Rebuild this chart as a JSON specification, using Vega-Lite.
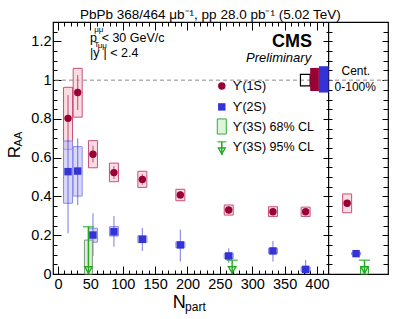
{
  "$schema": "https://vega.github.io/schema/vega-lite/v6.json",
  "autosize": {"type": "none"},
  "padding": {"left": 53, "top": 22, "right": 11, "bottom": 45},
  "width": 335,
  "height": 252,
  "background": "white",
  "title": {"text": "PbPb 368/464 μb⁻¹, pp 28.0 pb⁻¹ (5.02 TeV)", "anchor": "start", "frame": "group", "dx": 27, "offset": -11, "baseline": "alphabetic", "fontSize": 13.5, "font": "Liberation Sans", "fontWeight": "normal", "color": "black"},
  "config": {
    "view": {"stroke": "black", "strokeWidth": 1.2},
    "font": "Liberation Sans",
    "axis": {"grid": false, "domain": false, "labelFont": "Liberation Sans", "labelColor": "black", "tickColor": "black", "tickWidth": 1, "labelFlush": false, "labelOverlap": false}
  },
  "resolve": {"axis": {"x": "independent", "y": "independent"}},
  "datasets": {
    "main": [
      {"s": "1S", "n": 15.5, "r": 0.803, "slo": 0.683, "shi": 0.923, "blo": 0.643, "bhi": 0.963},
      {"s": "1S", "n": 30.4, "r": 0.936, "slo": 0.846, "shi": 1.027, "blo": 0.809, "bhi": 1.061},
      {"s": "1S", "n": 54, "r": 0.618, "slo": 0.575, "shi": 0.661, "blo": 0.548, "bhi": 0.688},
      {"s": "1S", "n": 86.4, "r": 0.523, "slo": 0.49, "shi": 0.556, "blo": 0.476, "bhi": 0.572},
      {"s": "1S", "n": 130.3, "r": 0.488, "slo": 0.46, "shi": 0.516, "blo": 0.447, "bhi": 0.53},
      {"s": "1S", "n": 189, "r": 0.408, "slo": 0.388, "shi": 0.428, "blo": 0.378, "bhi": 0.437},
      {"s": "1S", "n": 263.7, "r": 0.33, "slo": 0.313, "shi": 0.347, "blo": 0.304, "bhi": 0.356},
      {"s": "1S", "n": 332, "r": 0.321, "slo": 0.305, "shi": 0.337, "blo": 0.297, "bhi": 0.347},
      {"s": "1S", "n": 382.5, "r": 0.321, "slo": 0.305, "shi": 0.337, "blo": 0.297, "bhi": 0.345},
      {"s": "2S", "n": 15.5, "r": 0.528, "slo": 0.21, "shi": 0.69, "blo": 0.365, "bhi": 0.686},
      {"s": "2S", "n": 30.4, "r": 0.531, "slo": 0.356, "shi": 0.7, "blo": 0.402, "bhi": 0.657},
      {"s": "2S", "n": 54, "r": 0.201, "slo": 0.093, "shi": 0.313, "blo": 0.164, "bhi": 0.236},
      {"s": "2S", "n": 86.4, "r": 0.218, "slo": 0.141, "shi": 0.299, "blo": 0.196, "bhi": 0.244},
      {"s": "2S", "n": 130.3, "r": 0.179, "slo": 0.119, "shi": 0.239, "blo": 0.162, "bhi": 0.197},
      {"s": "2S", "n": 189, "r": 0.15, "slo": 0.064, "shi": 0.23, "blo": 0.136, "bhi": 0.165},
      {"s": "2S", "n": 263.7, "r": 0.093, "slo": 0.058, "shi": 0.133, "blo": 0.08, "bhi": 0.107},
      {"s": "2S", "n": 332, "r": 0.119, "slo": 0.064, "shi": 0.17, "blo": 0.106, "bhi": 0.132},
      {"s": "2S", "n": 382.5, "r": 0.024, "slo": 0, "shi": 0.072, "blo": 0.012, "bhi": 0.036}
    ],
    "integ": [
      {"s": "1S", "n": 446.6, "r": 0.365, "slo": 0.35, "shi": 0.38, "blo": 0.316, "bhi": 0.413},
      {"s": "2S", "n": 460.4, "r": 0.105, "slo": 0.095, "shi": 0.115, "blo": 0.099, "bhi": 0.111}
    ],
    "ul95": [
      {"n": 47, "ul": 0.244},
      {"n": 269, "ul": 0.071},
      {"n": 473.4, "ul": 0.071}
    ],
    "glob": [
      {"s": "1S", "x1": 389.5, "x2": 403, "lo": 0.944, "hi": 1.063},
      {"s": "2S", "x1": 403, "x2": 418, "lo": 0.936, "hi": 1.072}
    ]
  },
  "layer": [
    {
      "data": {"values": [{}]},
      "mark": {"type": "rule", "color": "#8c8c8c", "strokeDash": [4, 3], "strokeWidth": 1},
      "encoding": {"y": {"datum": 1, "type": "quantitative", "scale": {"domain": [0, 1.3], "nice": false, "zero": false}, "axis": null}}
    },
    {
      "data": {"values": [{}]},
      "mark": {"type": "rule", "color": "black", "strokeWidth": 1.2},
      "encoding": {"x": {"datum": 418, "type": "quantitative", "scale": {"domain": [0, 502], "nice": false, "zero": false}, "axis": null}}
    },
    {
      "data": {"name": "main"},
      "mark": {"type": "bar", "size": 9, "fillOpacity": 0.6, "strokeWidth": 1},
      "encoding": {
        "x": {"field": "n", "type": "quantitative", "scale": {"domain": [0, 502], "nice": false, "zero": false},
              "axis": {"title": null, "orient": "bottom", "values": [0, 50, 100, 150, 200, 250, 300, 350, 400], "tickSize": -8, "labelPadding": 11, "labelFontSize": 14.5, "format": "d"}},
        "y": {"field": "blo", "type": "quantitative", "scale": {"domain": [0, 1.3], "nice": false, "zero": false},
              "axis": {"title": null, "orient": "left", "values": [0, 0.2, 0.4, 0.6, 0.8, 1, 1.2], "tickSize": -8, "labelPadding": 10, "labelFontSize": 14.5, "format": "~g"}},
        "y2": {"field": "bhi"},
        "fill": {"field": "s", "type": "nominal", "scale": {"domain": ["1S", "2S"], "range": ["#f5c6d1", "#bfbff2"]}, "legend": null},
        "stroke": {"field": "s", "type": "nominal", "scale": {"domain": ["1S", "2S"], "range": ["#c8507a", "#8a8aee"]}, "legend": null}
      }
    },
    {
      "data": {"name": "main"},
      "mark": {"type": "rule", "strokeWidth": 1.2, "opacity": 0.55},
      "encoding": {
        "x": {"field": "n", "type": "quantitative", "scale": {"domain": [0, 502], "nice": false, "zero": false},
              "axis": {"title": null, "orient": "bottom", "values": [10, 20, 30, 40, 60, 70, 80, 90, 110, 120, 130, 140, 160, 170, 180, 190, 210, 220, 230, 240, 260, 270, 280, 290, 310, 320, 330, 340, 360, 370, 380, 390, 410], "tickSize": -4, "labels": false}},
        "y": {"field": "slo", "type": "quantitative", "scale": {"domain": [0, 1.3], "nice": false, "zero": false},
              "axis": {"title": null, "orient": "left", "values": [0.05, 0.1, 0.15, 0.25, 0.3, 0.35, 0.45, 0.5, 0.55, 0.65, 0.7, 0.75, 0.85, 0.9, 0.95, 1.05, 1.1, 1.15, 1.25], "tickSize": -4, "labels": false}},
        "y2": {"field": "shi"},
        "color": {"field": "s", "type": "nominal", "scale": {"domain": ["1S", "2S"], "range": ["#990033", "#3333d6"]}, "legend": null}
      }
    },
    {
      "data": {"name": "integ"},
      "mark": {"type": "bar", "size": 9, "fillOpacity": 0.6, "strokeWidth": 1},
      "encoding": {
        "x": {"field": "n", "type": "quantitative", "scale": {"domain": [0, 502], "nice": false, "zero": false},
              "axis": {"title": null, "orient": "top", "values": [0, 50, 100, 150, 200, 250, 300, 350, 400], "tickSize": -8, "labels": false}},
        "y": {"field": "blo", "type": "quantitative", "scale": {"domain": [0, 1.3], "nice": false, "zero": false},
              "axis": {"title": null, "orient": "right", "offset": -56, "values": [0, 0.2, 0.4, 0.6, 0.8, 1, 1.2], "tickSize": -9, "labels": false}},
        "y2": {"field": "bhi"},
        "fill": {"field": "s", "type": "nominal", "scale": {"domain": ["1S", "2S"], "range": ["#f5c6d1", "#bfbff2"]}, "legend": null},
        "stroke": {"field": "s", "type": "nominal", "scale": {"domain": ["1S", "2S"], "range": ["#c8507a", "#8a8aee"]}, "legend": null}
      }
    },
    {
      "data": {"name": "integ"},
      "mark": {"type": "rule", "strokeWidth": 1.2, "opacity": 0.55},
      "encoding": {
        "x": {"field": "n", "type": "quantitative", "scale": {"domain": [0, 502], "nice": false, "zero": false},
              "axis": {"title": null, "orient": "top", "values": [10, 20, 30, 40, 60, 70, 80, 90, 110, 120, 130, 140, 160, 170, 180, 190, 210, 220, 230, 240, 260, 270, 280, 290, 310, 320, 330, 340, 360, 370, 380, 390, 410], "tickSize": -4, "labels": false}},
        "y": {"field": "slo", "type": "quantitative", "scale": {"domain": [0, 1.3], "nice": false, "zero": false},
              "axis": {"title": null, "orient": "right", "offset": -56, "values": [0.05, 0.1, 0.15, 0.25, 0.3, 0.35, 0.45, 0.5, 0.55, 0.65, 0.7, 0.75, 0.85, 0.9, 0.95, 1.05, 1.1, 1.15, 1.25], "tickSize": -6, "labels": false}},
        "y2": {"field": "shi"},
        "color": {"field": "s", "type": "nominal", "scale": {"domain": ["1S", "2S"], "range": ["#990033", "#3333d6"]}, "legend": null}
      }
    },
    {
      "data": {"values": [{"n": 47, "lo": 0, "hi": 0.175}]},
      "mark": {"type": "bar", "size": 8, "fill": "#e2eadc", "stroke": "#7d9a7d", "strokeWidth": 1},
      "encoding": {
        "x": {"field": "n", "type": "quantitative", "scale": {"domain": [0, 502], "nice": false, "zero": false}, "axis": null},
        "y": {"field": "lo", "type": "quantitative", "scale": {"domain": [0, 1.3], "nice": false, "zero": false},
              "axis": {"title": null, "orient": "right", "values": [0, 0.2, 0.4, 0.6, 0.8, 1, 1.2], "tickSize": -6, "labels": false}},
        "y2": {"field": "hi"}
      }
    },
    {
      "data": {"values": [{"n": 473.4, "lo": 0, "hi": 0.038}]},
      "mark": {"type": "bar", "size": 8, "fill": "#ddf5dd", "stroke": "#33aa33", "strokeWidth": 1},
      "encoding": {
        "x": {"field": "n", "type": "quantitative", "scale": {"domain": [0, 502], "nice": false, "zero": false}, "axis": null},
        "y": {"field": "lo", "type": "quantitative", "scale": {"domain": [0, 1.3], "nice": false, "zero": false}, "axis": null},
        "y2": {"field": "hi"}
      }
    },
    {
      "data": {"name": "ul95"},
      "mark": {"type": "rule", "color": "#22aa22", "strokeWidth": 1.5},
      "encoding": {
        "x": {"field": "n", "type": "quantitative", "scale": {"domain": [0, 502], "nice": false, "zero": false}, "axis": null},
        "y": {"field": "ul", "type": "quantitative", "scale": {"domain": [0, 1.3], "nice": false, "zero": false},
              "axis": {"title": null, "orient": "right", "values": [0.05, 0.1, 0.15, 0.25, 0.3, 0.35, 0.45, 0.5, 0.55, 0.65, 0.7, 0.75, 0.85, 0.9, 0.95, 1.05, 1.1, 1.15, 1.25], "tickSize": -5, "labels": false}},
        "y2": {"datum": 0}
      }
    },
    {
      "data": {"name": "ul95"},
      "mark": {"type": "tick", "orient": "horizontal", "size": 11, "thickness": 1.5, "color": "#22aa22"},
      "encoding": {
        "x": {"field": "n", "type": "quantitative", "scale": {"domain": [0, 502], "nice": false, "zero": false}, "axis": null},
        "y": {"field": "ul", "type": "quantitative", "scale": {"domain": [0, 1.3], "nice": false, "zero": false}, "axis": null}
      }
    },
    {
      "data": {"name": "ul95"},
      "mark": {"type": "point", "shape": "triangle-down", "size": 55, "filled": false, "color": "#22aa22", "strokeWidth": 1.4, "yOffset": -4, "opacity": 1},
      "encoding": {
        "x": {"field": "n", "type": "quantitative", "scale": {"domain": [0, 502], "nice": false, "zero": false}, "axis": null},
        "y": {"datum": 0, "type": "quantitative", "scale": {"domain": [0, 1.3], "nice": false, "zero": false}, "axis": null}
      }
    },
    {
      "data": {"name": "main"},
      "mark": {"type": "point", "filled": true, "opacity": 1, "size": 55},
      "encoding": {
        "x": {"field": "n", "type": "quantitative", "scale": {"domain": [0, 502], "nice": false, "zero": false}, "axis": null},
        "y": {"field": "r", "type": "quantitative", "scale": {"domain": [0, 1.3], "nice": false, "zero": false}, "axis": null},
        "color": {"field": "s", "type": "nominal", "scale": {"domain": ["1S", "2S"], "range": ["#990033", "#3333d6"]}, "legend": null},
        "shape": {"field": "s", "type": "nominal", "scale": {"domain": ["1S", "2S"], "range": ["circle", "square"]}, "legend": null}
      }
    },
    {
      "data": {"name": "integ"},
      "mark": {"type": "point", "filled": true, "opacity": 1, "size": 55},
      "encoding": {
        "x": {"field": "n", "type": "quantitative", "scale": {"domain": [0, 502], "nice": false, "zero": false}, "axis": null},
        "y": {"field": "r", "type": "quantitative", "scale": {"domain": [0, 1.3], "nice": false, "zero": false}, "axis": null},
        "color": {"field": "s", "type": "nominal", "scale": {"domain": ["1S", "2S"], "range": ["#990033", "#3333d6"]}, "legend": null},
        "shape": {"field": "s", "type": "nominal", "scale": {"domain": ["1S", "2S"], "range": ["circle", "square"]}, "legend": null}
      }
    },
    {
      "data": {"values": [{"x1": 374.5, "x2": 389.5, "lo": 0.97, "hi": 1.03}]},
      "mark": {"type": "rect", "fill": "transparent", "stroke": "black", "strokeWidth": 1.2},
      "encoding": {
        "x": {"field": "x1", "type": "quantitative", "scale": {"domain": [0, 502], "nice": false, "zero": false}, "axis": null},
        "x2": {"field": "x2"},
        "y": {"field": "lo", "type": "quantitative", "scale": {"domain": [0, 1.3], "nice": false, "zero": false}, "axis": null},
        "y2": {"field": "hi"}
      }
    },
    {
      "data": {"name": "glob"},
      "mark": {"type": "rect", "opacity": 1},
      "encoding": {
        "x": {"field": "x1", "type": "quantitative", "scale": {"domain": [0, 502], "nice": false, "zero": false}, "axis": null},
        "x2": {"field": "x2"},
        "y": {"field": "lo", "type": "quantitative", "scale": {"domain": [0, 1.3], "nice": false, "zero": false}, "axis": null},
        "y2": {"field": "hi"},
        "color": {"field": "s", "type": "nominal", "scale": {"domain": ["1S", "2S"], "range": ["#990033", "#3333d6"]}, "legend": null}
      }
    },
    {
      "data": {"values": [{"s": "1S", "x": 253, "y": 0.97}, {"s": "2S", "x": 253, "y": 0.862}]},
      "mark": {"type": "point", "filled": true, "opacity": 1, "size": 55},
      "encoding": {
        "x": {"field": "x", "type": "quantitative", "scale": {"domain": [0, 502], "nice": false, "zero": false}, "axis": null},
        "y": {"field": "y", "type": "quantitative", "scale": {"domain": [0, 1.3], "nice": false, "zero": false}, "axis": null},
        "color": {"field": "s", "type": "nominal", "scale": {"domain": ["1S", "2S"], "range": ["#990033", "#3333d6"]}, "legend": null},
        "shape": {"field": "s", "type": "nominal", "scale": {"domain": ["1S", "2S"], "range": ["circle", "square"]}, "legend": null}
      }
    },
    {
      "data": {"values": [{"x": 253, "lo": 0.722, "hi": 0.8}]},
      "mark": {"type": "bar", "size": 9, "fill": "#ddf5dd", "stroke": "#33aa33", "strokeWidth": 1},
      "encoding": {
        "x": {"field": "x", "type": "quantitative", "scale": {"domain": [0, 502], "nice": false, "zero": false}, "axis": null},
        "y": {"field": "lo", "type": "quantitative", "scale": {"domain": [0, 1.3], "nice": false, "zero": false}, "axis": null},
        "y2": {"field": "hi"}
      }
    },
    {
      "data": {"values": [{"x": 253, "ul": 0.682, "tip": 0.614}]},
      "layer": [
        {"mark": {"type": "rule", "color": "#22aa22", "strokeWidth": 1.5},
         "encoding": {
           "x": {"field": "x", "type": "quantitative", "scale": {"domain": [0, 502], "nice": false, "zero": false}, "axis": null},
           "y": {"field": "ul", "type": "quantitative", "scale": {"domain": [0, 1.3], "nice": false, "zero": false}, "axis": null},
           "y2": {"field": "tip"}}},
        {"mark": {"type": "tick", "orient": "horizontal", "size": 9, "thickness": 1.5, "color": "#22aa22"},
         "encoding": {
           "x": {"field": "x", "type": "quantitative", "scale": {"domain": [0, 502], "nice": false, "zero": false}, "axis": null},
           "y": {"field": "ul", "type": "quantitative", "scale": {"domain": [0, 1.3], "nice": false, "zero": false}, "axis": null}}},
        {"mark": {"type": "point", "shape": "triangle-down", "size": 45, "filled": false, "color": "#22aa22", "strokeWidth": 1.4, "yOffset": -4, "opacity": 1},
         "encoding": {
           "x": {"field": "x", "type": "quantitative", "scale": {"domain": [0, 502], "nice": false, "zero": false}, "axis": null},
           "y": {"field": "tip", "type": "quantitative", "scale": {"domain": [0, 1.3], "nice": false, "zero": false}, "axis": null}}}
      ]
    },
    {
      "data": {"values": [
        {"x": 270, "y": 0.97, "t": "ϒ(1S)"},
        {"x": 270, "y": 0.862, "t": "ϒ(2S)"},
        {"x": 270, "y": 0.758, "t": "ϒ(3S) 68% CL"},
        {"x": 270, "y": 0.655, "t": "ϒ(3S) 95% CL"}
      ]},
      "mark": {"type": "text", "align": "left", "baseline": "middle", "fontSize": 12.5, "font": "Liberation Sans", "color": "black"},
      "encoding": {
        "x": {"field": "x", "type": "quantitative", "scale": {"domain": [0, 502], "nice": false, "zero": false}, "axis": null},
        "y": {"field": "y", "type": "quantitative", "scale": {"domain": [0, 1.3], "nice": false, "zero": false}, "axis": null},
        "text": {"field": "t"}
      }
    },
    {
      "data": {"values": [
        {"x": 49.4, "y": 1.197, "t": "p"},
        {"x": 67.4, "y": 1.197, "t": "< 30 GeV/c"},
        {"x": 49.4, "y": 1.119, "t": "|y"},
        {"x": 70.4, "y": 1.119, "t": "| < 2.4"}
      ]},
      "mark": {"type": "text", "align": "left", "baseline": "alphabetic", "fontSize": 12.5, "font": "Liberation Sans", "color": "black"},
      "encoding": {
        "x": {"field": "x", "type": "quantitative", "scale": {"domain": [0, 502], "nice": false, "zero": false}, "axis": null},
        "y": {"field": "y", "type": "quantitative", "scale": {"domain": [0, 1.3], "nice": false, "zero": false}, "axis": null},
        "text": {"field": "t"}
      }
    },
    {
      "data": {"values": [
        {"x": 56, "y": 1.25, "t": "μμ"},
        {"x": 56, "y": 1.172, "t": "T"},
        {"x": 61.4, "y": 1.168, "t": "μμ"}
      ]},
      "mark": {"type": "text", "align": "left", "baseline": "alphabetic", "fontSize": 8, "font": "Liberation Sans", "color": "black"},
      "encoding": {
        "x": {"field": "x", "type": "quantitative", "scale": {"domain": [0, 502], "nice": false, "zero": false}, "axis": null},
        "y": {"field": "y", "type": "quantitative", "scale": {"domain": [0, 1.3], "nice": false, "zero": false}, "axis": null},
        "text": {"field": "t"}
      }
    },
    {
      "data": {"values": [{"x": 392.5, "y": 1.171, "t": "CMS"}]},
      "mark": {"type": "text", "align": "right", "baseline": "alphabetic", "fontSize": 18, "fontWeight": "bold", "font": "Liberation Sans", "color": "black"},
      "encoding": {
        "x": {"field": "x", "type": "quantitative", "scale": {"domain": [0, 502], "nice": false, "zero": false}, "axis": null},
        "y": {"field": "y", "type": "quantitative", "scale": {"domain": [0, 1.3], "nice": false, "zero": false}, "axis": null},
        "text": {"field": "t"}
      }
    },
    {
      "data": {"values": [{"x": 391, "y": 1.094, "t": "Preliminary"}]},
      "mark": {"type": "text", "align": "right", "baseline": "alphabetic", "fontSize": 13, "fontStyle": "italic", "font": "Liberation Sans", "color": "black"},
      "encoding": {
        "x": {"field": "x", "type": "quantitative", "scale": {"domain": [0, 502], "nice": false, "zero": false}, "axis": null},
        "y": {"field": "y", "type": "quantitative", "scale": {"domain": [0, 1.3], "nice": false, "zero": false}, "axis": null},
        "text": {"field": "t"}
      }
    },
    {
      "data": {"values": [{"x": 460, "y": 1.027, "t": "Cent."}, {"x": 459.2, "y": 0.944, "t": "0-100%"}]},
      "mark": {"type": "text", "align": "center", "baseline": "alphabetic", "fontSize": 12, "font": "Liberation Sans", "color": "black"},
      "encoding": {
        "x": {"field": "x", "type": "quantitative", "scale": {"domain": [0, 502], "nice": false, "zero": false}, "axis": null},
        "y": {"field": "y", "type": "quantitative", "scale": {"domain": [0, 1.3], "nice": false, "zero": false}, "axis": null},
        "text": {"field": "t"}
      }
    },
    {
      "data": {"values": [{"x": 187.3, "y": -0.175, "t": "N"}]},
      "mark": {"type": "text", "align": "center", "baseline": "alphabetic", "fontSize": 18, "font": "Liberation Sans", "color": "black"},
      "encoding": {
        "x": {"field": "x", "type": "quantitative", "scale": {"domain": [0, 502], "nice": false, "zero": false}, "axis": null},
        "y": {"field": "y", "type": "quantitative", "scale": {"domain": [0, 1.3], "nice": false, "zero": false}, "axis": null},
        "text": {"field": "t"}
      }
    },
    {
      "data": {"values": [{"x": 196.3, "y": -0.191, "t": "part"}]},
      "mark": {"type": "text", "align": "left", "baseline": "alphabetic", "fontSize": 12, "font": "Liberation Sans", "color": "black"},
      "encoding": {
        "x": {"field": "x", "type": "quantitative", "scale": {"domain": [0, 502], "nice": false, "zero": false}, "axis": null},
        "y": {"field": "y", "type": "quantitative", "scale": {"domain": [0, 1.3], "nice": false, "zero": false}, "axis": null},
        "text": {"field": "t"}
      }
    },
    {
      "data": {"values": [{"x": -58.4, "y": 0.629, "t": "R"}]},
      "mark": {"type": "text", "align": "center", "baseline": "alphabetic", "angle": 270, "fontSize": 17, "font": "Liberation Sans", "color": "black"},
      "encoding": {
        "x": {"field": "x", "type": "quantitative", "scale": {"domain": [0, 502], "nice": false, "zero": false}, "axis": null},
        "y": {"field": "y", "type": "quantitative", "scale": {"domain": [0, 1.3], "nice": false, "zero": false}, "axis": null},
        "text": {"field": "t"}
      }
    },
    {
      "data": {"values": [{"x": -55.4, "y": 0.696, "t": "AA"}]},
      "mark": {"type": "text", "align": "center", "baseline": "alphabetic", "angle": 270, "fontSize": 11, "font": "Liberation Sans", "color": "black"},
      "encoding": {
        "x": {"field": "x", "type": "quantitative", "scale": {"domain": [0, 502], "nice": false, "zero": false}, "axis": null},
        "y": {"field": "y", "type": "quantitative", "scale": {"domain": [0, 1.3], "nice": false, "zero": false}, "axis": null},
        "text": {"field": "t"}
      }
    }
  ]
}
